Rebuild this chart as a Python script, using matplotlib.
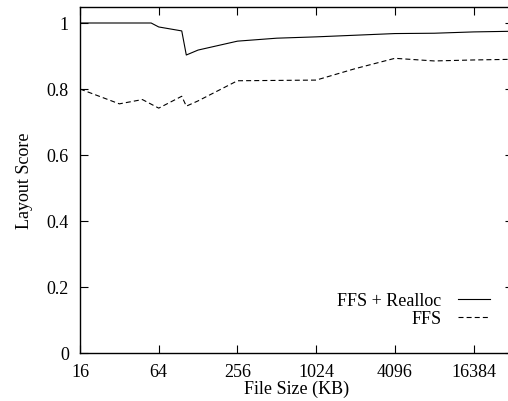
import matplotlib
matplotlib.use("Agg")
import matplotlib.pyplot as plt
from matplotlib.ticker import FixedLocator, FixedFormatter, NullLocator

plt.rcParams['font.family'] = ['Liberation Serif', 'DejaVu Serif']

# Data (file size in KB, layout score)
realloc_sizes = [16, 56, 64, 96, 104, 128, 256, 512, 1024, 2048, 4096, 8192, 16384, 32768]
realloc_scores = [1.0, 1.0, 0.988, 0.976, 0.903, 0.918, 0.945, 0.954, 0.958, 0.963, 0.968, 0.969, 0.973, 0.975]

ffs_sizes = [16, 32, 48, 64, 96, 104, 128, 256, 1024, 2048, 4096, 8192, 16384, 32768]
ffs_scores = [0.800, 0.755, 0.768, 0.742, 0.778, 0.748, 0.764, 0.825, 0.827, 0.862, 0.893, 0.885, 0.888, 0.890]

x_ticks = [16, 64, 256, 1024, 4096, 16384]
x_tick_labels = ["16", "64", "256", "1024", "4096", "16384"]
y_ticks = [0, 0.2, 0.4, 0.6, 0.8, 1.0]
y_tick_labels = ["0", "0.2", "0.4", "0.6", "0.8", "1"]

W, H = 508, 402
fig = plt.figure(figsize=(W / 100, H / 100), dpi=100)
left, right, bottom, top = 80, 513, 354, 7.5
ax = fig.add_axes([left / W, (H - bottom) / H, (right - left) / W, (bottom - top) / H])

ax.plot(realloc_sizes, realloc_scores, color='black', lw=0.8, label='FFS + Realloc')
ax.plot(ffs_sizes, ffs_scores, color='black', lw=0.8, dashes=(4.5, 2.8), label='FFS')

ax.set_xscale('log', base=2)
ax.set_xlim(16, 32768)
ax.set_ylim(0, 1.05)
ax.xaxis.set_major_locator(FixedLocator(x_ticks))
ax.xaxis.set_major_formatter(FixedFormatter(x_tick_labels))
ax.xaxis.set_minor_locator(NullLocator())
ax.yaxis.set_major_locator(FixedLocator(y_ticks))
ax.yaxis.set_major_formatter(FixedFormatter(y_tick_labels))

ax.tick_params(axis='both', which='major', direction='in', length=5.5, width=0.8,
               top=True, right=True, labelsize=13)
ax.tick_params(axis='x', pad=7)
ax.tick_params(axis='y', pad=8)
for s in ax.spines.values():
    s.set_linewidth(1.0)

ax.set_xlabel('File Size (KB)', fontsize=13, labelpad=0)
ax.set_ylabel('Layout Score', fontsize=13, labelpad=10)

leg = ax.legend(loc='lower right', bbox_to_anchor=(490 / W, (H - 328) / H),
                bbox_transform=fig.transFigure, frameon=False, markerfirst=False,
                fontsize=13, handlelength=1.8, handletextpad=0.9,
                labelspacing=0.05, borderpad=0, borderaxespad=0)
for t in leg.get_texts():
    t.set_ha('right')

fig.savefig('out.png', dpi=100)
